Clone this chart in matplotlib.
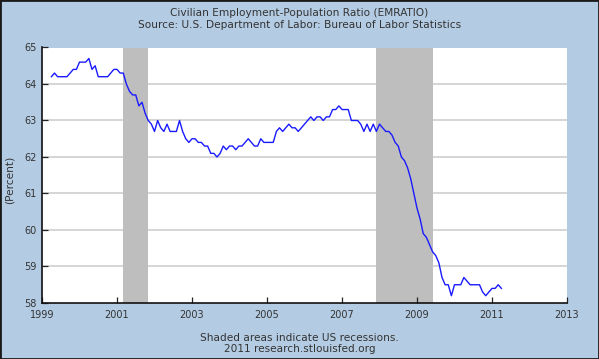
import matplotlib
matplotlib.use("Agg")
import matplotlib.pyplot as plt
import numpy as np

# ---- data (monthly, starting April 1999) ----
start_year = 1999
start_month = 4
emratio = [
    64.2, 64.3, 64.2, 64.2, 64.2, 64.2, 64.3, 64.4, 64.4,            # 1999 Apr-Dec
    64.6, 64.6, 64.6, 64.7, 64.4, 64.5, 64.2, 64.2, 64.2, 64.2, 64.3, 64.4,  # 2000
    64.4, 64.3, 64.3, 64.0, 63.8, 63.7, 63.7, 63.4, 63.5, 63.2, 63.0, 62.9,  # 2001
    62.7, 63.0, 62.8, 62.7, 62.9, 62.7, 62.7, 62.7, 63.0, 62.7, 62.5, 62.4,  # 2002
    62.5, 62.5, 62.4, 62.4, 62.3, 62.3, 62.1, 62.1, 62.0, 62.1, 62.3, 62.2,  # 2003
    62.3, 62.3, 62.2, 62.3, 62.3, 62.4, 62.5, 62.4, 62.3, 62.3, 62.5, 62.4,  # 2004
    62.4, 62.4, 62.4, 62.7, 62.8, 62.7, 62.8, 62.9, 62.8, 62.8, 62.7, 62.8,  # 2005
    62.9, 63.0, 63.1, 63.0, 63.1, 63.1, 63.0, 63.1, 63.1, 63.3, 63.3, 63.4,  # 2006
    63.3, 63.3, 63.3, 63.0, 63.0, 63.0, 62.9, 62.7, 62.9, 62.7, 62.9, 62.7,  # 2007
    62.9, 62.8, 62.7, 62.7, 62.6, 62.4, 62.3, 62.0, 61.9, 61.7, 61.4, 61.0,  # 2008
    60.6, 60.3, 59.9, 59.8, 59.6, 59.4, 59.3, 59.1, 58.7, 58.5, 58.5, 58.2,  # 2009
    58.5, 58.5, 58.5, 58.7, 58.6, 58.5, 58.5, 58.5, 58.5, 58.3, 58.2, 58.3,  # 2010
    58.4, 58.4, 58.5, 58.4,                                                  # 2011
]
recession_starts = [2001 + 2/12, 2007 + 11/12]
recession_ends = [2001 + 10/12, 2009 + 5/12]
x_ticks = [1999, 2001, 2003, 2005, 2007, 2009, 2011, 2013]
y_ticks = [58, 59, 60, 61, 62, 63, 64, 65]

title1 = "Civilian Employment-Population Ratio (EMRATIO)"
title2 = "Source: U.S. Department of Labor: Bureau of Labor Statistics"
footer1 = "Shaded areas indicate US recessions."
footer2 = "2011 research.stlouisfed.org"
ylabel = "(Percent)"

# ---- figure ----
W, H = 599, 359
bg = "#b4cce3"
fig = plt.figure(figsize=(W / 100, H / 100), dpi=100, facecolor=bg)
# outer border
fig.patches.append(plt.Rectangle((0, 0), 1, 1, transform=fig.transFigure,
                                 fill=False, edgecolor="#1a1a1a", linewidth=2.0))

L, R, T, B = 42, 567, 47.5, 303
ax = fig.add_axes([L / W, (H - B) / H, (R - L) / W, (B - T) / H])
ax.set_facecolor("white")

months = np.arange(len(emratio))
x = start_year + (start_month - 1) / 12 + months / 12

for s, e in zip(recession_starts, recession_ends):
    ax.axvspan(s, e, color="#bebebe", linewidth=0, zorder=1)

for yv in y_ticks[1:-1]:
    ax.axhline(yv, color="#d2d2d2", linewidth=1.3, zorder=0.5)

ax.plot(x, emratio, color="#1a1aff", linewidth=1.0, zorder=3)

ax.set_xlim(1999, 2013)
ax.set_ylim(58, 65)
ax.set_xticks(x_ticks)
ax.set_xticklabels([str(t) for t in x_ticks])
ax.set_yticks(y_ticks)
ax.set_yticklabels([str(t) for t in y_ticks])
for sp in ["top", "right"]:
    ax.spines[sp].set_visible(False)
for sp in ["left", "bottom"]:
    ax.spines[sp].set_color("#111111")
    ax.spines[sp].set_linewidth(1.2)
ax.tick_params(axis="both", direction="in", length=4, width=0.9, color="#222222",
               labelsize=7, labelcolor="#333333")
ax.tick_params(axis="x", pad=5)
ax.tick_params(axis="y", pad=4)

fs = 7.6
fig.text(0.5, 1 - 13.5 / H, title1, ha="center", va="center", fontsize=fs, color="#333333")
fig.text(0.5, 1 - 25.5 / H, title2, ha="center", va="center", fontsize=fs, color="#333333")
fig.text(0.5, 1 - 338 / H, footer1, ha="center", va="center", fontsize=fs, color="#333333")
fig.text(0.5, 1 - 349.5 / H, footer2, ha="center", va="center", fontsize=fs, color="#333333")
fig.text(9.5 / W, 1 - 180 / H, ylabel, ha="center", va="center", rotation=90,
         fontsize=fs, color="#333333")

fig.savefig("out.png", dpi=100, facecolor=bg)
